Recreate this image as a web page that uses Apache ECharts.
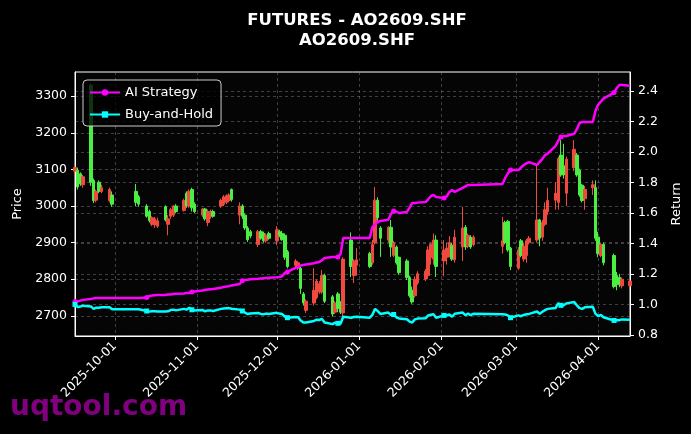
<!DOCTYPE html>
<html>
<head>
<meta charset="utf-8">
<script src="https://cdn.jsdelivr.net/npm/echarts@6/dist/echarts.min.js"></script>
<style>
html,body{margin:0;padding:0;background:#000;}
#chart{width:691px;height:434px;}
</style>
</head>
<body>
<div id="chart"></div>
<script>
const dates = [
'2025-09-16','2025-09-17','2025-09-18','2025-09-19','2025-09-22','2025-09-23','2025-09-24','2025-09-25','2025-09-26','2025-09-29','2025-09-30',
'2025-10-09','2025-10-10','2025-10-13','2025-10-14','2025-10-15','2025-10-16','2025-10-17','2025-10-20','2025-10-21','2025-10-22','2025-10-23','2025-10-24','2025-10-27','2025-10-28','2025-10-29','2025-10-30','2025-10-31',
'2025-11-03','2025-11-04','2025-11-05','2025-11-06','2025-11-07','2025-11-10','2025-11-11','2025-11-12','2025-11-13','2025-11-14','2025-11-17','2025-11-18','2025-11-19','2025-11-20','2025-11-21','2025-11-24','2025-11-25','2025-11-26','2025-11-27','2025-11-28',
'2025-12-01','2025-12-02','2025-12-03','2025-12-04','2025-12-05','2025-12-08','2025-12-09','2025-12-10','2025-12-11','2025-12-12','2025-12-15','2025-12-16','2025-12-17','2025-12-18','2025-12-19','2025-12-22','2025-12-23','2025-12-24','2025-12-25','2025-12-26','2025-12-29','2025-12-30','2025-12-31',
'2026-01-05','2026-01-06','2026-01-07','2026-01-08','2026-01-09','2026-01-12','2026-01-13','2026-01-14','2026-01-15','2026-01-16','2026-01-19','2026-01-20','2026-01-21','2026-01-22','2026-01-23','2026-01-26','2026-01-27','2026-01-28','2026-01-29','2026-01-30',
'2026-02-02','2026-02-03','2026-02-04','2026-02-05','2026-02-06','2026-02-09','2026-02-10','2026-02-11','2026-02-12','2026-02-13','2026-02-24','2026-02-25','2026-02-26','2026-02-27',
'2026-03-02','2026-03-03','2026-03-04','2026-03-05','2026-03-06','2026-03-09','2026-03-10','2026-03-11','2026-03-12','2026-03-13','2026-03-16','2026-03-17','2026-03-18','2026-03-19','2026-03-20','2026-03-23','2026-03-24','2026-03-25','2026-03-26','2026-03-27','2026-03-30','2026-03-31',
'2026-04-01','2026-04-02','2026-04-03','2026-04-07','2026-04-08','2026-04-09','2026-04-10','2026-04-13'
];
const opens = [
3095,3098,3088,3058,3330,3070,3016,3065,3040,3015,3030,
3040,3025,3000,2985,2950,2948,2945,2998,2950,2972,2975,3000,2988,3035,3000,3045,3005,
2975,2992,2955,2972,2985,3000,3005,3010,3015,3045,2975,3000,2975,2940,2930,2895,2930,2925,2905,2925,
2905,2930,2925,2920,2875,2838,2830,2830,2760,2715,2735,2750,2765,2765,2810,2752,2710,2760,2735,2708,2907,2810,2838,
2870,2845,2900,3016,2940,2907,2942,2865,2888,2860,2850,2805,2770,2755,2790,2800,2810,2860,2855,2907,
2850,2860,2870,2893,2853,2888,2942,2890,2915,2895,2890,2955,2958,2885,
2830,2905,2855,2865,2900,2907,2962,2915,2950,2985,3016,3010,3139,3110,3035,3105,3139,3098,3057,3020,3050,3050,
2915,2865,2895,2865,2810,2805,2782,2782
];
const closes = [
3105,3052,3060,3080,3065,3015,3040,3040,3050,3045,3005,
3010,3005,2972,2960,2968,2965,2960,2962,2965,2990,3000,2985,3015,3000,3040,2995,2985,
2992,2965,2985,2985,2972,3015,3025,3028,3030,3018,3000,2972,2940,2908,2918,2930,2912,2905,2920,2912,
2935,2920,2908,2860,2835,2850,2845,2775,2735,2740,2770,2795,2788,2810,2740,2705,2735,2720,2710,2855,2835,2850,2853,
2835,2895,3016,2968,2912,2942,2888,2900,2845,2818,2805,2755,2738,2800,2815,2822,2880,2895,2907,2835,
2880,2885,2900,2855,2915,2940,2888,2920,2888,2915,2905,2900,2880,2835,
2880,2865,2890,2905,2912,2962,2912,2955,2990,3015,3035,3130,3085,3085,3128,3155,3085,3030,3015,3045,3058,2912,
2870,2895,2845,2780,2785,2785,2800,2795
];
const lows = [
3085,3045,3055,3050,3055,3008,3010,3035,3035,3010,2998,
3000,2998,2968,2955,2945,2940,2940,2958,2920,2965,2970,2980,2985,2995,2995,2985,2980,
2970,2960,2945,2965,2968,2995,3000,3005,3010,3012,2950,2965,2935,2902,2912,2888,2908,2900,2900,2908,
2893,2915,2905,2853,2830,2833,2825,2760,2728,2708,2728,2745,2760,2760,2735,2698,2705,2710,2705,2690,2806,2790,2810,
2830,2840,2895,2960,2861,2900,2861,2860,2840,2812,2798,2750,2733,2750,2785,2795,2800,2840,2840,2806,
2808,2840,2860,2850,2845,2850,2880,2885,2883,2890,2870,2895,2875,2825,
2825,2860,2848,2845,2895,2900,2890,2905,2945,2975,2990,2990,3080,3075,3000,3095,3080,3025,3010,2990,3030,2905,
2860,2860,2838,2775,2770,2778,2775,2778
];
const highs = [
3110,3105,3092,3085,3335,3075,3045,3070,3058,3050,3040,
3060,3030,3005,2990,2972,2970,2968,3002,2975,2995,3002,3005,3020,3040,3045,3050,3010,
2995,2995,2990,2990,2990,3020,3030,3032,3035,3048,3010,3005,2980,2945,2935,2935,2935,2930,2925,2930,
2945,2935,2932,2925,2880,2855,2850,2835,2765,2745,2830,2800,2795,2825,2815,2757,2740,2765,2740,2860,2928,2855,2885,
2875,2907,3052,3024,2945,2945,2962,2905,2892,2862,2855,2810,2780,2808,2822,2828,2890,2900,2925,2920,
2907,2900,2918,2900,2935,2997,2948,2925,2920,2920,2970,2960,2962,2888,
2888,2910,2900,2910,2918,3111,2965,2962,3010,3050,3065,3135,3180,3170,3135,3180,3145,3102,3060,3055,3070,3070,
2930,2900,2900,2870,2820,2815,2805,2800
];
const aiStrategy = [
1.02,1.02,1.025,1.03,1.035,1.04,1.043,1.043,1.043,1.043,1.043,
1.043,1.043,1.045,1.055,1.058,1.06,1.062,1.062,1.065,1.065,1.068,1.07,1.072,1.075,1.075,1.082,1.085,
1.092,1.095,1.098,1.10,1.102,1.11,1.115,1.118,1.12,1.125,1.134,1.155,1.16,1.162,1.165,1.168,1.17,1.172,1.174,1.175,
1.178,1.18,1.185,1.207,1.213,1.24,1.246,1.255,1.259,1.262,1.27,1.275,1.279,1.29,1.305,1.311,1.311,1.311,1.33,1.436,1.436,1.436,1.436,
1.436,1.508,1.525,1.541,1.548,1.556,1.595,1.613,1.61,1.60,1.607,1.635,1.666,1.666,1.668,1.672,1.69,1.71,1.718,1.705,
1.698,1.71,1.738,1.751,1.738,1.765,1.775,1.784,1.784,1.784,1.79,1.83,1.86,1.882,
1.882,1.90,1.915,1.925,1.934,1.915,1.935,1.955,1.98,1.99,2.04,2.075,2.098,2.105,2.105,2.12,2.15,2.19,2.197,2.197,2.197,2.27,
2.31,2.33,2.35,2.39,2.42,2.44,2.44,2.435
];
const buyHold = [
1.000,0.983,0.986,0.992,0.987,0.971,0.979,0.979,0.982,0.981,0.968,
0.969,0.968,0.957,0.953,0.956,0.955,0.953,0.954,0.955,0.963,0.966,0.961,0.971,0.966,0.979,0.965,0.961,
0.964,0.955,0.961,0.961,0.957,0.971,0.974,0.975,0.976,0.972,0.966,0.957,0.947,0.937,0.940,0.944,0.938,0.936,0.940,0.938,
0.945,0.940,0.937,0.921,0.913,0.918,0.916,0.894,0.881,0.882,0.892,0.900,0.898,0.905,0.882,0.871,0.881,0.876,0.873,0.919,0.913,0.918,0.919,
0.913,0.932,0.971,0.956,0.938,0.947,0.930,0.934,0.916,0.908,0.903,0.887,0.882,0.902,0.907,0.909,0.928,0.932,0.936,0.913,
0.928,0.929,0.934,0.919,0.939,0.947,0.930,0.940,0.930,0.939,0.936,0.934,0.928,0.913,
0.928,0.923,0.931,0.936,0.938,0.954,0.938,0.952,0.963,0.971,0.977,1.008,0.994,0.994,1.007,1.016,0.994,0.976,0.971,0.981,0.985,0.938,
0.924,0.932,0.916,0.895,0.897,0.897,0.902,0.900
];
const monthTicks = ['2025-10-01','2025-11-01','2025-12-01','2026-01-01','2026-02-01','2026-03-01','2026-04-01'];
const priceTicks = [2700,2800,2900,3000,3100,3200,3300];
const returnTicks = [0.8,1.0,1.2,1.4,1.6,1.8,2.0,2.2,2.4];

const T = s => echarts.time.parse(s);
const ts = dates.map(T);
const candleData = ts.map((t,i) => [t, opens[i], closes[i], lows[i], highs[i]]);
const MARK_EVERY = 13;
const mk = (arr, sym) => arr.map((v,i) => ({value:[ts[i], v], symbol: i % MARK_EVERY === 0 ? sym : 'none'}));
const pad = n => (n < 10 ? '0' : '') + n;
const fmtDate = v => { const d = new Date(v); return d.getFullYear() + '-' + pad(d.getMonth()+1) + '-' + pad(d.getDate()); };

const FONT = 'DejaVu Sans';
const gridLine = {show:true, lineStyle:{color:'rgba(140,140,140,0.55)', type:[3,3], width:0.8}};
const chart = echarts.init(document.getElementById('chart'));
chart.setOption({
  backgroundColor:'#000',
  animation:false,
  title:{
    text:'FUTURES - AO2609.SHF\nAO2609.SHF',
    left:352, top:6, textAlign:'center',
    textStyle:{color:'#fff', fontFamily:FONT, fontWeight:'bold', fontSize:16.5, lineHeight:20}
  },
  legend:{
    data:['AI Strategy','Buy-and-Hold'],
    orient:'vertical', left:83, top:80,
    itemWidth:30, itemHeight:8, itemGap:9,
    padding:[6,8,5,6],
    backgroundColor:'rgba(0,0,0,0.78)',
    borderColor:'#cccccc', borderWidth:1, borderRadius:4,
    textStyle:{color:'#fff', fontFamily:FONT, fontSize:13}
  },
  grid:{left:75, right:61, top:72, bottom:98, show:true, borderColor:'#fff', borderWidth:1, backgroundColor:'#050505'},
  xAxis:{
    type:'value', min:ts[0], max:ts[ts.length-1],
    axisLine:{show:true, lineStyle:{color:'#fff', width:1}},
    axisTick:{show:true, length:4, lineStyle:{color:'#fff'}, customValues: monthTicks.map(T)},
    axisLabel:{color:'#fff', fontFamily:FONT, fontSize:12.5, rotate:45, margin:8,
      customValues: monthTicks.map(T), formatter: fmtDate},
    splitLine:gridLine
  },
  yAxis:[{
    type:'value', min:2645, max:3366, position:'left',
    name:'Price', nameLocation:'middle', nameGap:50, nameRotate:90,
    nameTextStyle:{color:'#fff', fontFamily:FONT, fontSize:13},
    axisLine:{show:true, lineStyle:{color:'#fff'}},
    axisTick:{show:true, length:4, lineStyle:{color:'#fff'}, customValues:priceTicks},
    axisLabel:{color:'#fff', fontFamily:FONT, fontSize:12.5, margin:8, customValues:priceTicks,
      formatter: v => String(Math.round(v))},
    splitLine:gridLine
  },{
    type:'value', min:0.793, max:2.525, position:'right',
    name:'Return', nameLocation:'middle', nameGap:40, nameRotate:90,
    nameTextStyle:{color:'#fff', fontFamily:FONT, fontSize:13},
    axisLine:{show:true, lineStyle:{color:'#fff'}},
    axisTick:{show:true, length:4, lineStyle:{color:'#fff'}, customValues:returnTicks},
    axisLabel:{color:'#fff', fontFamily:FONT, fontSize:12.5, margin:8, customValues:returnTicks,
      formatter: v => v.toFixed(1)},
    splitLine:gridLine
  }],
  series:[{
    type:'candlestick', name:'Price', yAxisIndex:0,
    encode:{x:0, y:[1,2,3,4]},
    barWidth:3,
    itemStyle:{color:'#f04a3e', color0:'#4cee44', borderColor:'#f04a3e', borderColor0:'#4cee44', borderWidth:1},
    data:candleData, z:2
  },{
    type:'line', name:'AI Strategy', yAxisIndex:1,
    data:mk(aiStrategy,'circle'), symbol:'circle', symbolSize:5, showSymbol:true, showAllSymbol:true,
    lineStyle:{color:'#ff00ff', width:2.5}, itemStyle:{color:'#ff00ff'}, z:5
  },{
    type:'line', name:'Buy-and-Hold', yAxisIndex:1,
    data:mk(buyHold,'rect'), symbol:'rect', symbolSize:5, showSymbol:true, showAllSymbol:true,
    lineStyle:{color:'#00ffff', width:2.5}, itemStyle:{color:'#00ffff'}, z:5
  }],
  graphic:[{
    type:'text', left:10, top:394,
    style:{text:'uqtool.com', fill:'#800080', font:'bold 28px "DejaVu Sans"'}
  }]
});
</script>
</body>
</html>
